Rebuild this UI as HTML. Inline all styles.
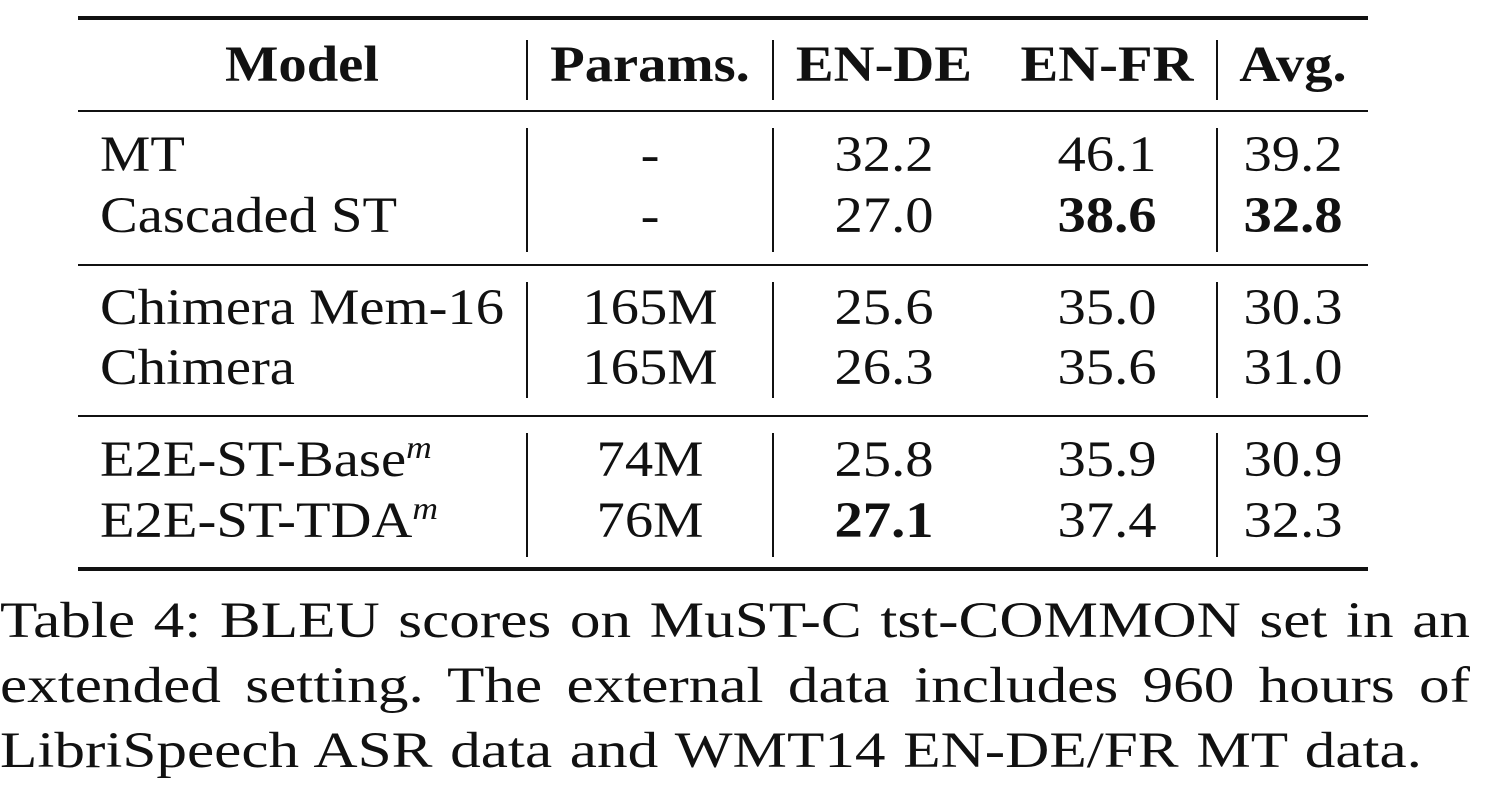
<!DOCTYPE html>
<html><head><meta charset="utf-8"><style>
body{margin:0;width:1486px;height:792px;background:#fff;position:relative;overflow:hidden;font-family:"Liberation Serif","Times New Roman",serif;color:#111}
.t{position:absolute;font-size:51px;line-height:60px;white-space:nowrap;transform:scaleX(1.11);transform-origin:left center}
.c{text-align:center;transform-origin:center center}
.b{font-weight:bold}
.r{position:absolute;left:78px;width:1290px;background:#111}
.v{position:absolute;width:2px;background:#111}
.cap{position:absolute;left:0;width:1225px;font-size:51px;line-height:65px;text-align:justify;text-align-last:justify;white-space:nowrap;transform:scaleX(1.2);transform-origin:left center}
sup{font-style:italic;font-size:32px;vertical-align:18px;line-height:0}
</style></head><body>
<div class="r" style="top:16px;height:4px"></div>
<div class="r" style="top:110px;height:2px"></div>
<div class="r" style="top:264px;height:2px"></div>
<div class="r" style="top:415px;height:2px"></div>
<div class="r" style="top:567px;height:4px"></div>

<div class="v" style="left:526px;top:40px;height:60px"></div>
<div class="v" style="left:772px;top:40px;height:60px"></div>
<div class="v" style="left:1216px;top:40px;height:60px"></div>
<div class="v" style="left:526px;top:128px;height:124px"></div>
<div class="v" style="left:772px;top:128px;height:124px"></div>
<div class="v" style="left:1216px;top:128px;height:124px"></div>
<div class="v" style="left:526px;top:282px;height:116px"></div>
<div class="v" style="left:772px;top:282px;height:116px"></div>
<div class="v" style="left:1216px;top:282px;height:116px"></div>
<div class="v" style="left:526px;top:433px;height:124px"></div>
<div class="v" style="left:772px;top:433px;height:124px"></div>
<div class="v" style="left:1216px;top:433px;height:124px"></div>

<div class="t c b" style="left:78px;width:448px;top:35px">Model</div>
<div class="t c b" style="left:528px;width:244px;top:35px">Params.</div>
<div class="t c b" style="left:784px;width:200px;top:35px">EN-DE</div>
<div class="t c b" style="left:1007px;width:200px;top:35px">EN-FR</div>
<div class="t c b" style="left:1218px;width:150px;top:35px">Avg.</div>

<div>
<div class="t" style="left:100px;top:125px">MT</div>
<div class="t c" style="left:528px;width:244px;top:125px">-</div>
<div class="t c" style="left:784px;width:200px;top:125px">32.2</div>
<div class="t c" style="left:1007px;width:200px;top:125px">46.1</div>
<div class="t c" style="left:1218px;width:150px;top:125px">39.2</div>
</div>
<div>
<div class="t" style="left:100px;top:186px">Cascaded ST</div>
<div class="t c" style="left:528px;width:244px;top:186px">-</div>
<div class="t c" style="left:784px;width:200px;top:186px">27.0</div>
<div class="t c b" style="left:1007px;width:200px;top:186px">38.6</div>
<div class="t c b" style="left:1218px;width:150px;top:186px">32.8</div>
</div>
<div>
<div class="t" style="left:100px;top:278px">Chimera Mem-16</div>
<div class="t c" style="left:528px;width:244px;top:278px">165M</div>
<div class="t c" style="left:784px;width:200px;top:278px">25.6</div>
<div class="t c" style="left:1007px;width:200px;top:278px">35.0</div>
<div class="t c" style="left:1218px;width:150px;top:278px">30.3</div>
</div>
<div>
<div class="t" style="left:100px;top:338px">Chimera</div>
<div class="t c" style="left:528px;width:244px;top:338px">165M</div>
<div class="t c" style="left:784px;width:200px;top:338px">26.3</div>
<div class="t c" style="left:1007px;width:200px;top:338px">35.6</div>
<div class="t c" style="left:1218px;width:150px;top:338px">31.0</div>
</div>
<div>
<div class="t" style="left:100px;top:430px">E2E-ST-Base<sup>m</sup></div>
<div class="t c" style="left:528px;width:244px;top:430px">74M</div>
<div class="t c" style="left:784px;width:200px;top:430px">25.8</div>
<div class="t c" style="left:1007px;width:200px;top:430px">35.9</div>
<div class="t c" style="left:1218px;width:150px;top:430px">30.9</div>
</div>
<div>
<div class="t" style="left:100px;top:491px">E2E-ST-TDA<sup>m</sup></div>
<div class="t c" style="left:528px;width:244px;top:491px">76M</div>
<div class="t c b" style="left:784px;width:200px;top:491px">27.1</div>
<div class="t c" style="left:1007px;width:200px;top:491px">37.4</div>
<div class="t c" style="left:1218px;width:150px;top:491px">32.3</div>
</div>

<div class="cap" style="top:589px">Table 4: BLEU scores on MuST-C tst-COMMON set in an</div>
<div class="cap" style="top:654px">extended setting. The external data includes 960 hours of</div>
<div class="cap" style="top:719px;text-align-last:left;word-spacing:2px">LibriSpeech ASR data and WMT14 EN-DE/FR MT data.</div>
</body></html>
